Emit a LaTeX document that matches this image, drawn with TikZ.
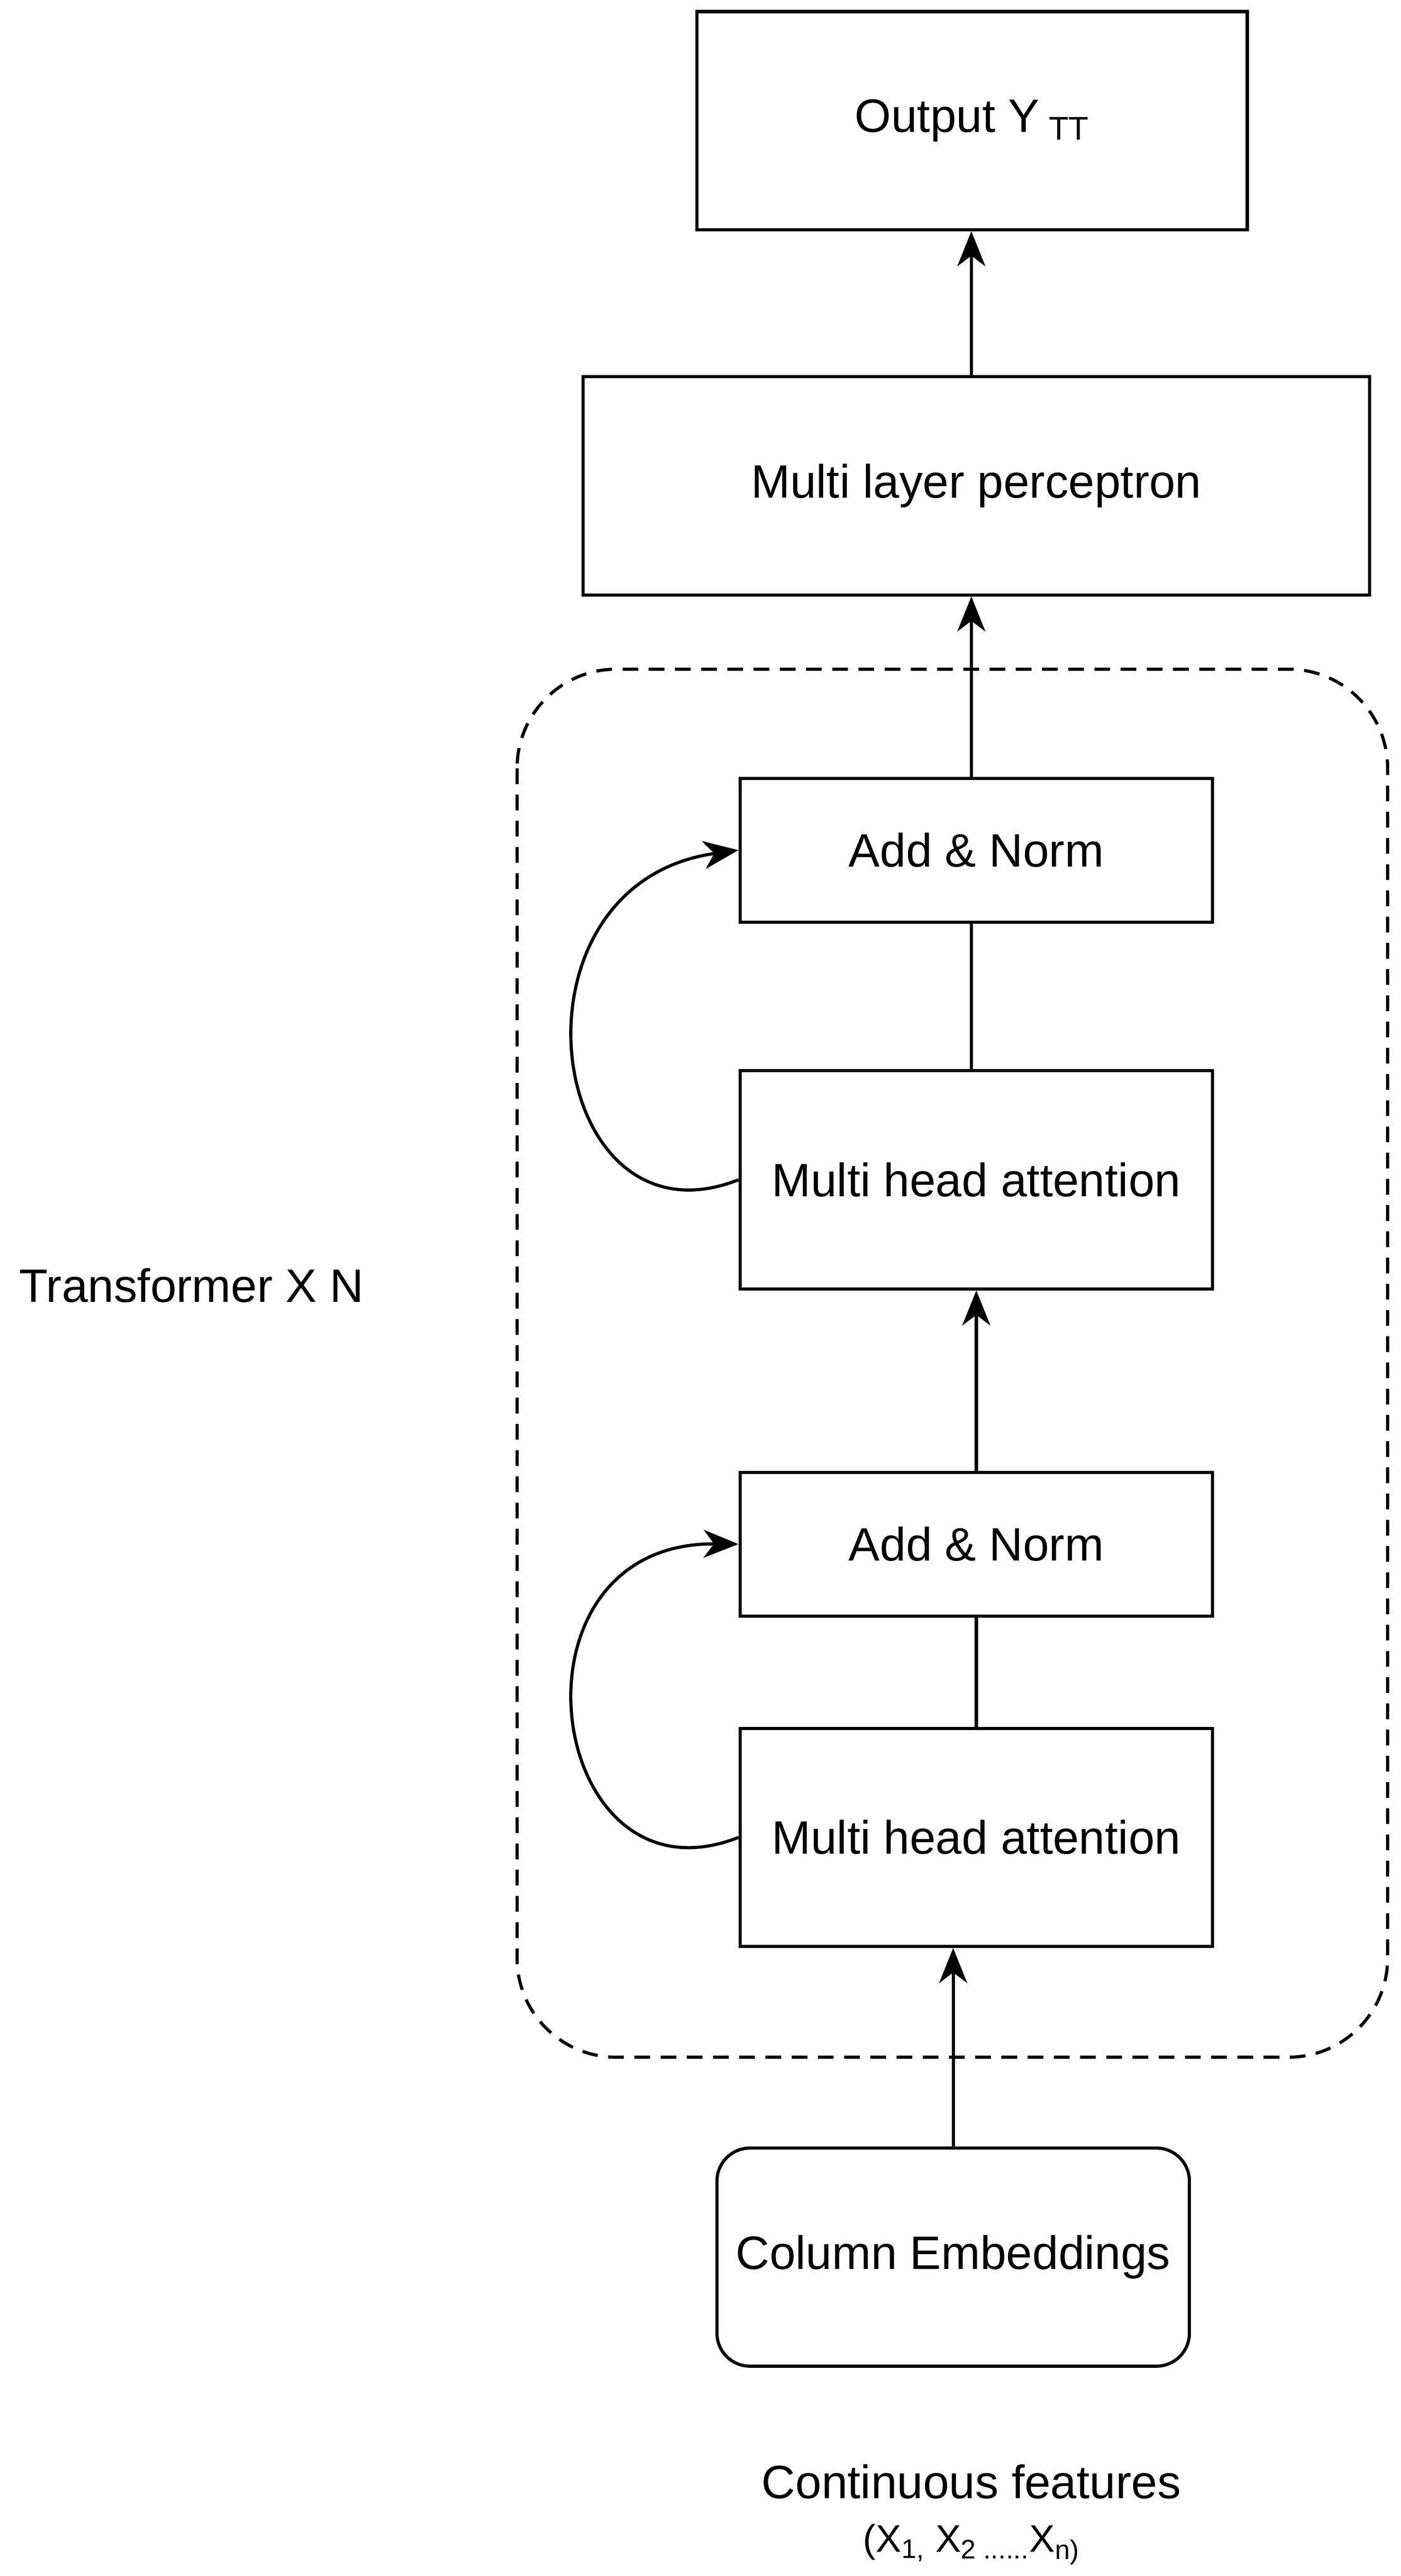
\documentclass[tikz,border=0pt]{standalone}
\usepackage{fontspec}
\setmainfont{Liberation Sans}
\usetikzlibrary{arrows.meta}
\begin{document}
\begin{tikzpicture}[x=0.03322cm,y=-0.03322cm,
  box/.style={draw,line width=1.8pt,inner sep=0pt,font=\fontsize{26.8}{32}\selectfont},
  arr/.style={line width=1.8pt,-{Stealth[length=20pt,width=16pt,inset=6pt]}},
  ln/.style={line width=1.8pt}]
\useasboundingbox (0,0) rectangle (848,1559);
\node[box,minimum width=333*0.03322cm,minimum height=132*0.03322cm] (out) at (588.5,73) {Output Y\textsubscript{ TT}};
\node[box,minimum width=476*0.03322cm,minimum height=132*0.03322cm] (mlp) at (591,294) {Multi layer perceptron};
\draw[line width=1.8pt,dash pattern=on 9pt off 6pt,rounded corners=60*0.03322cm] (313,405) rectangle (840,1245);
\node[box,minimum width=286*0.03322cm,minimum height=87*0.03322cm] (an1) at (591,514.5) {Add \& Norm};
\node[box,minimum width=286*0.03322cm,minimum height=132*0.03322cm] (mha1) at (591,714) {Multi head attention};
\node[box,minimum width=286*0.03322cm,minimum height=87*0.03322cm] (an2) at (591,934.5) {Add \& Norm};
\node[box,minimum width=286*0.03322cm,minimum height=132*0.03322cm] (mha2) at (591,1112) {Multi head attention};
\node[box,rounded corners=20*0.03322cm,minimum width=286*0.03322cm,minimum height=132*0.03322cm] (col) at (577,1366) {Column Embeddings};
\node[anchor=west,font=\fontsize{26.8}{32}\selectfont] (tr) at (8,778) {Transformer X N};
\node[font=\fontsize{26.8}{32}\selectfont] (cf) at (588,1502) {Continuous features};
\node[font=\fontsize{22}{26}\selectfont] (xs) at (588,1540) {(X\textsubscript{1,} X\textsubscript{2 ......}X\textsubscript{n)}};
\coordinate (a1) at (588,228); \coordinate (b1) at (588,139);
\draw[arr] (mlp.north -| a1) -- (out.south -| b1);
\draw[arr] (an1.north -| a1) -- (mlp.south -| a1);
\draw[ln] (an1.south -| a1) -- (mha1.north -| a1);
\draw[arr] (an2.north) -- (mha1.south);
\draw[ln] (an2.south) -- (mha2.north);
\draw[arr] (col.north) -- (col.north |- mha2.south);
\draw[arr] (mha1.west) .. controls (330,760) and (300,535) .. (an1.west);
\draw[arr] (mha2.west) .. controls (330,1158) and (300,933) .. (an2.west);
\end{tikzpicture}
\end{document}
